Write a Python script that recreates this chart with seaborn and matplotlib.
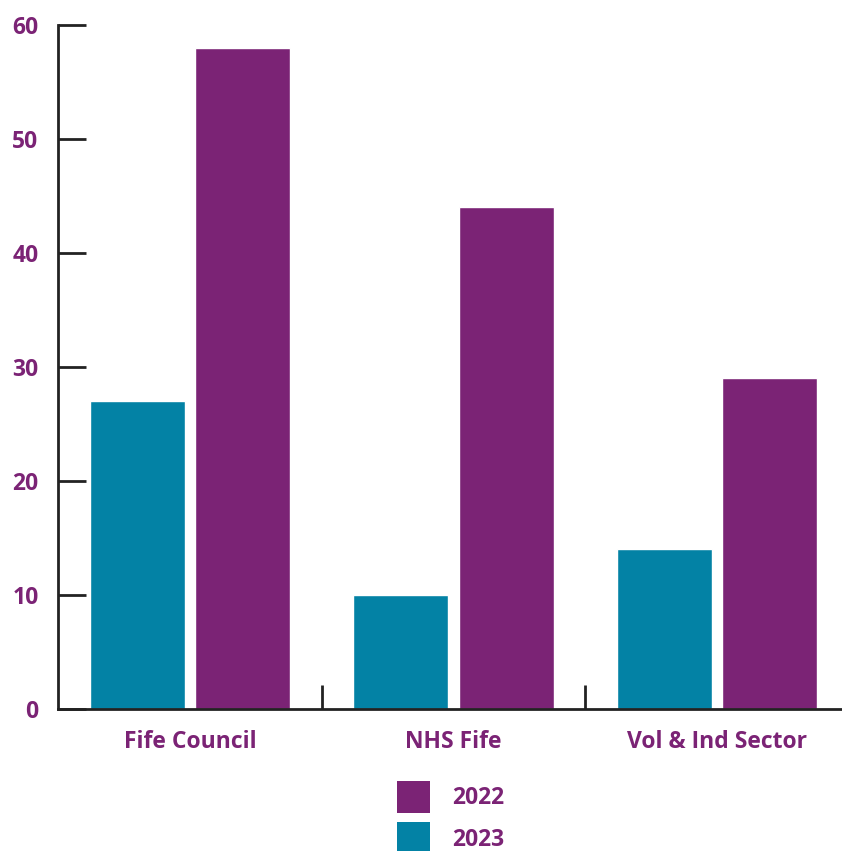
import matplotlib
matplotlib.use("Agg")
import matplotlib.pyplot as plt
from matplotlib.patches import Patch
import seaborn as sns
import pandas as pd

categories = ["Fife Council", "NHS Fife", "Vol & Ind Sector"]
values_2023 = [27, 10, 14]
values_2022 = [58, 44, 29]
years = ["2023", "2022"]
yticks = [0, 10, 20, 30, 40, 50, 60]

TEAL = "#0382A5"
PURPLE = "#7B2375"

df = pd.DataFrame({
    "category": categories * 2,
    "year": [years[0]] * 3 + [years[1]] * 3,
    "value": values_2023 + values_2022,
})

sns.set_theme(style="white")
plt.rcParams["font.family"] = ["Open Sans", "DejaVu Sans"]

fig = plt.figure(figsize=(8.42, 8.51), dpi=100)
W, H = 842, 851
ax = fig.add_axes([58 / W, (H - 709) / H, (849 - 58) / W, (709 - 25) / H])

sns.barplot(data=df, x="category", y="value", hue="year", order=categories,
            hue_order=years, palette=[TEAL, PURPLE], width=0.8, gap=0.1,
            saturation=1, ax=ax, legend=False)

ax.set_xlim(-0.5, 2.5)
ax.set_ylim(0, 60)
ax.set_yticks(yticks)
ax.set_xlabel("")
ax.set_ylabel("")
for s in ["top", "right"]:
    ax.spines[s].set_visible(False)
for s in ["left", "bottom"]:
    ax.spines[s].set_color("#222222")
    ax.spines[s].set_linewidth(2)
    ax.spines[s].set_clip_on(False)

ax.tick_params(axis="y", direction="in", length=20, width=2, color="#222222",
               pad=14, labelsize=16.5, labelcolor=PURPLE, left=True)
ax.tick_params(axis="x", which="major", length=0, pad=15, labelsize=16.5,
               labelcolor=PURPLE)
ax.set_xticks([0.5, 1.5], minor=True)
ax.tick_params(axis="x", which="minor", direction="in", length=17, width=2,
               color="#222222", bottom=True)
for lab in ax.get_xticklabels() + ax.get_yticklabels():
    lab.set_fontweight("bold")

handles = [Patch(facecolor=PURPLE, edgecolor="none", label="2022"),
           Patch(facecolor=TEAL, edgecolor="none", label="2023")]
leg = fig.legend(handles=handles, loc="upper left",
                 bbox_to_anchor=(397 / W, 1 - 781 / H), frameon=False,
                 prop={"size": 16.5, "weight": "bold"},
                 handlelength=1.44, handleheight=1.77, handletextpad=0.95,
                 labelspacing=0.4, borderpad=0, borderaxespad=0)
for t in leg.get_texts():
    t.set_color(PURPLE)

fig.savefig("out.png", dpi=100)
